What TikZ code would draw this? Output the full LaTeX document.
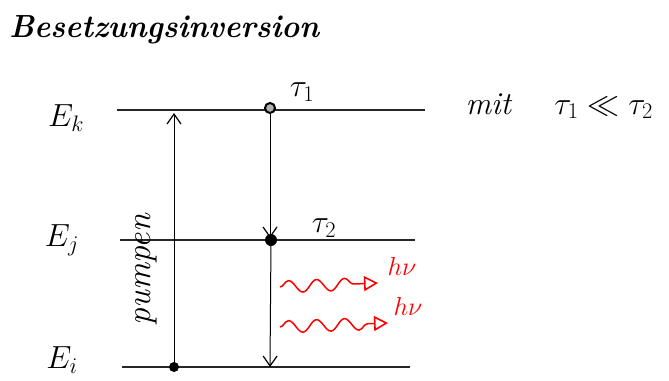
\RequirePackage{fix-cm}
\documentclass[tikz,border=0pt]{standalone}
\usepackage{fontspec}
\usetikzlibrary{arrows.meta,decorations.pathmorphing}
\begin{document}
\begin{tikzpicture}[x=1pt,y=-1pt,
  level/.style={line width=1.3pt,draw=black!85},
  trans/.style={line width=1pt,-{Straight Barb[length=10pt,width=14pt,line width=1.2pt]}},
  photon/.style={red,line width=1.5pt,decorate,decoration={snake,amplitude=6pt,segment length=28pt,post length=12pt},-{Triangle[open,length=14pt,width=15pt,line width=1.6pt]}},
  lbl/.style={font=\fontsize{32}{34}\selectfont\itshape},
  redlbl/.style={font=\fontsize{26}{28}\selectfont\itshape,text=red},
  dot/.style={circle,fill=black,inner sep=0pt,minimum size=10pt}]
\useasboundingbox (0,0) rectangle (669,380);
% title
\node[font=\fontsize{32}{34}\selectfont\bfseries\itshape,anchor=west,xscale=0.95] (title) at (6,30) {Besetzungsinversion};
% levels
\coordinate (k1) at (117,110); \coordinate (k2) at (425,110);
\coordinate (j1) at (120,240); \coordinate (j2) at (415,240);
\coordinate (i1) at (122,367); \coordinate (i2) at (410,367);
\draw[level] (k1) -- (k2);
\draw[level] (j1) -- (j2);
\draw[level] (i1) -- (i2);
% labels
\node[lbl] (Ek) at (66,118) {$E_k$};
\node[lbl] (Ej) at (62,240) {$E_j$};
\node[lbl] (Ei) at (62,360) {$E_i$};
% dots
\node[dot] (di) at (174,367) {};
\node[circle,draw=black,line width=2pt,fill=black!30,inner sep=0pt,minimum size=10pt] (dk) at (270,108) {};
\node[dot,minimum size=12pt] (dj) at (271,240) {};
% pump
\coordinate (ptop) at (174,113);
\draw[trans] (di) -- (ptop);
\node[rotate=90,font=\fontsize{34}{36}\selectfont\itshape] (pump) at (146,270) {pumpen};
% decay
\coordinate (jtop) at (270,238);
\coordinate (ibot) at (270,367);
\draw[trans] (dk) -- (jtop);
\draw[trans] (dj) -- (ibot);
\node[lbl] (t1) at (302,92) {$\tau_1$};
\node[lbl] (t2) at (324,228) {$\tau_2$};
\node[lbl,anchor=west] (mit) at (462,106) {mit\quad\ $\tau_1 \ll \tau_2$};
% photons
\coordinate (a1) at (280,287); \coordinate (b1) at (378,283);
\coordinate (a2) at (280,327); \coordinate (b2) at (388,323);
\draw[photon] (a1) -- (b1);
\draw[photon] (a2) -- (b2);
\node[redlbl] (hv1) at (402,266) {$h\nu$};
\node[redlbl] (hv2) at (408,306) {$h\nu$};
\end{tikzpicture}
\end{document}
